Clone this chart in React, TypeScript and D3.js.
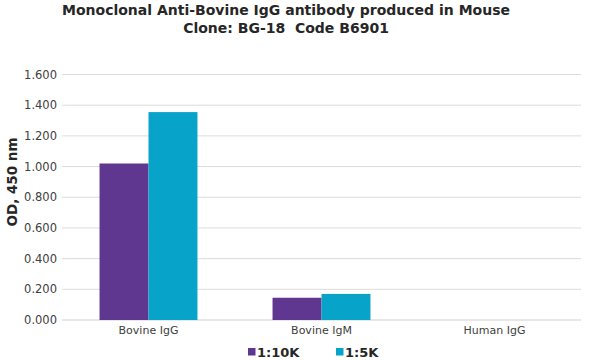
import React from "react";
import * as d3 from "d3";

// data
const categories = ["Bovine IgG", "Bovine IgM", "Human IgG"];
const seriesNames = ["1:10K", "1:5K"];
const dil10K = [1.02, 0.145, 0];
const dil5K = [1.355, 0.17, 0];
const yTicks = [0, 0.2, 0.4, 0.6, 0.8, 1.0, 1.2, 1.4, 1.6];
const colors = ["#5f3790", "#07a3c9"];

const W = 589, H = 360;
const margin = { top: 74.5, right: 8, bottom: 40, left: 62 };
const font = "'DejaVu Sans', Verdana, sans-serif";

export default function App() {
  const x = d3.scaleBand()
    .domain(categories)
    .range([margin.left, W - margin.right])
    .paddingInner(0.434)
    .paddingOuter(0.217);
  const sub = d3.scaleBand().domain(seriesNames).range([0, x.bandwidth()]);
  const y = d3.scaleLinear().domain([0, 1.6]).range([H - margin.bottom, margin.top]);
  const fmt = d3.format(".3f");
  const series = [dil10K, dil5K];

  return (
    <svg width={W} height={H} style={{ position: "absolute", left: 0, top: 0, background: "#fff" }}>
      <text x={286} y={15} textAnchor="middle" fontFamily={font} fontWeight="bold" fontSize={14} fill="#262626">
        Monoclonal Anti-Bovine IgG antibody produced in Mouse
      </text>
      <text x={286} y={33} textAnchor="middle" fontFamily={font} fontWeight="bold" fontSize={14} fill="#262626"
        style={{ whiteSpace: "pre" }}>
        {"Clone: BG-18  Code B6901"}
      </text>

      {/* gridlines + tick labels */}
      {yTicks.map(t => (
        <g key={t}>
          <line x1={margin.left} x2={W - margin.right} y1={y(t)} y2={y(t)}
            stroke={t === 0 ? "#cfcfcf" : "#dcdcdc"} strokeWidth={1} />
          <text x={57} y={y(t)} dy="0.35em" textAnchor="end" fontFamily={font} fontSize={11.5} fill="#404040">
            {fmt(t)}
          </text>
        </g>
      ))}

      {/* bars */}
      {series.map((vals, si) =>
        vals.map((v, ci) => (
          <rect key={si + "-" + ci}
            x={(x(categories[ci]) as number) + (sub(seriesNames[si]) as number)}
            y={y(v)} width={sub.bandwidth()} height={y(0) - y(v)} fill={colors[si]} />
        ))
      )}

      {/* category labels */}
      {categories.map(c => (
        <text key={c} x={(x(c) as number) + x.bandwidth() / 2} y={334} textAnchor="middle"
          fontFamily={font} fontSize={11} fill="#404040">{c}</text>
      ))}

      {/* y axis title */}
      <text transform={`translate(17,182) rotate(-90)`} textAnchor="middle" fontFamily={font}
        fontWeight="bold" fontSize={13.5} fill="#262626">OD, 450 nm</text>

      {/* legend */}
      {seriesNames.map((s, i) => {
        const lx = [248, 336][i];
        return (
          <g key={s}>
            <rect x={lx} y={348} width={7.5} height={7.5} fill={colors[i]} />
            <text x={lx + 9} y={356.5} fontFamily={font} fontWeight="bold" fontSize={13} fill="#262626">{s}</text>
          </g>
        );
      })}
    </svg>
  );
}
